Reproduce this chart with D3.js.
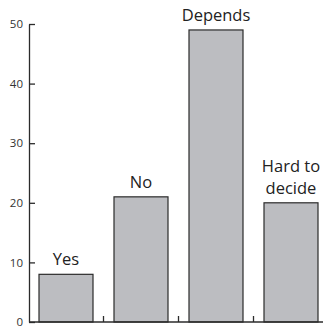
<!DOCTYPE html>
<meta charset="utf-8">
<style>
body { margin: 0; background: #fff; }
svg { display: block; font-family: "Open Sans", sans-serif; }
.bar { fill: #bcbdc1; stroke: #2b2b2b; stroke-width: 1.2; }
.axis path, .axis line { stroke: #2b2b2b; stroke-width: 1.3; }
.axis text { fill: #333; font-size: 11.5px; font-family: "Open Sans", sans-serif; }
.label { fill: #222; font-size: 16.5px; }
</style>
<svg width="323" height="329"></svg>
<script src="https://d3js.org/d3.v7.min.js"></script>
<script>
// dados
var answers = ["Yes", "No", "Depends", "Hard to|decide"];
var counts = [8, 21, 49, 20];
var yTicks = [0, 10, 20, 30, 40, 50];

var svg = d3.select("svg");

var x = d3.scaleBand()
    .domain(answers)
    .range([28.5, 328.5])
    .paddingInner(0.28)
    .paddingOuter(0.14);

var y = d3.scaleLinear()
    .domain([0, 50])
    .range([322, 24]);

// eixo y, com marcas para dentro
svg.append("g")
    .attr("class", "axis")
    .attr("transform", "translate(29,0)")
    .call(d3.axisLeft(y).tickValues(yTicks).tickSizeInner(-6).tickSizeOuter(0).tickPadding(6));

// barras
svg.selectAll("rect.bar")
  .data(answers)
  .enter()
  .append("rect")
    .attr("class", "bar")
    .attr("x", d => x(d))
    .attr("width", x.bandwidth())
    .attr("y", (d, i) => y(counts[i]))
    .attr("height", (d, i) => y(0) - y(counts[i]));

// rótulos acima das barras
var labels = svg.selectAll("text.label")
  .data(answers)
  .enter()
  .append("text")
    .attr("class", "label")
    .attr("text-anchor", "middle");

labels.each(function(d, i) {
  var lines = d.split("|");
  var cx = x(d) + x.bandwidth() / 2;
  var base = y(counts[i]) - 9;
  lines.forEach(function(t, j) {
    d3.select(this).append("tspan")
      .attr("x", cx)
      .attr("y", base - (lines.length - 1 - j) * 22)
      .text(t);
  }, this);
});

// eixo x: linha e marcas entre as barras
var step = x.step();
var gx = svg.append("g").attr("class", "axis");
gx.append("line")
    .attr("x1", 29).attr("x2", 323)
    .attr("y1", y(0)).attr("y2", y(0));
gx.selectAll("line.sep")
  .data(answers.slice(0, -1))
  .enter()
  .append("line")
    .attr("class", "sep")
    .attr("x1", d => x(d) + x.bandwidth() + (step - x.bandwidth()) / 2)
    .attr("x2", d => x(d) + x.bandwidth() + (step - x.bandwidth()) / 2)
    .attr("y1", y(0)).attr("y2", y(0) - 6);
</script>
